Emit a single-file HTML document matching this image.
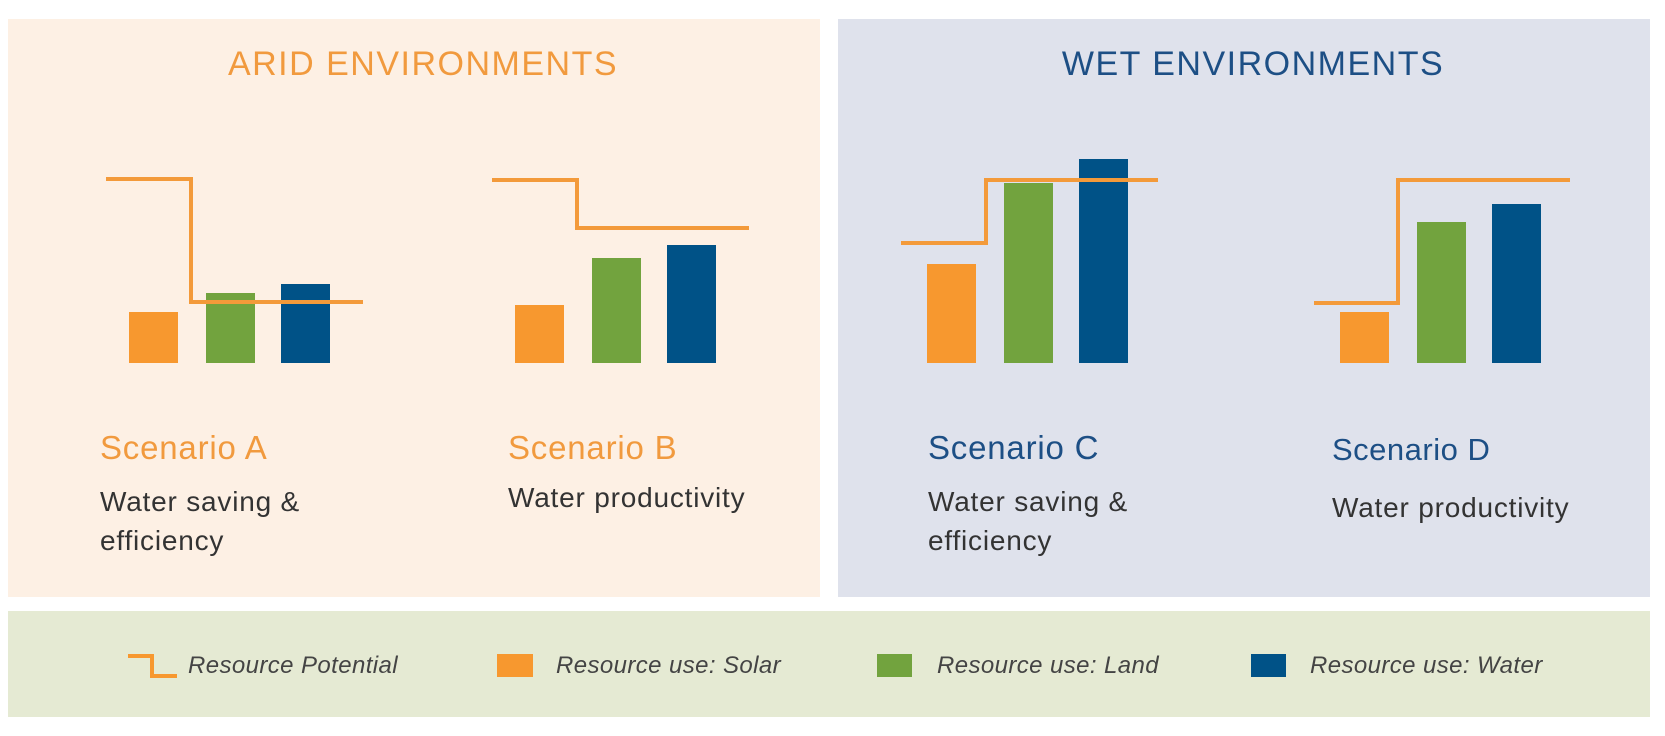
<!DOCTYPE html>
<html><head><meta charset="utf-8"><style>
body{margin:0;width:1665px;height:736px;background:#fff;position:relative;overflow:hidden;font-family:"Liberation Sans",sans-serif}
.abs{position:absolute}
.t{position:absolute;white-space:nowrap}
</style></head><body>
<div class="abs" style="left:8px;top:19px;width:812px;height:578px;background:#fdf0e4"></div>
<div class="abs" style="left:838px;top:19px;width:812px;height:578px;background:#dfe2ec"></div>
<div class="abs" style="left:8px;top:611px;width:1642px;height:106px;background:#e5ead3"></div>

<div class="t" style="left:173px;top:45px;width:500px;text-align:center;font-size:34px;letter-spacing:1.5px;color:#f19a3e">ARID ENVIRONMENTS</div>
<div class="t" style="left:1003px;top:45px;width:500px;text-align:center;font-size:34px;letter-spacing:1.5px;color:#1d4f85">WET ENVIRONMENTS</div>

<div class="t" style="left:100px;top:429px;font-size:33px;letter-spacing:0.8px;color:#f19a3e">Scenario A</div>
<div class="t" style="left:100px;top:482px;font-size:28px;line-height:39px;letter-spacing:0.8px;color:#333">Water saving &amp;<br>efficiency</div>
<div class="t" style="left:508px;top:429px;font-size:33px;letter-spacing:0.8px;color:#f19a3e">Scenario B</div>
<div class="t" style="left:508px;top:482px;font-size:28px;letter-spacing:0.8px;color:#333">Water productivity</div>
<div class="t" style="left:928px;top:429px;font-size:33px;letter-spacing:0.8px;color:#1d4f85">Scenario C</div>
<div class="t" style="left:928px;top:482px;font-size:28px;line-height:39px;letter-spacing:0.8px;color:#333">Water saving &amp;<br>efficiency</div>
<div class="t" style="left:1332px;top:432px;font-size:31px;letter-spacing:0.5px;color:#1d4f85">Scenario D</div>
<div class="t" style="left:1332px;top:492px;font-size:28px;letter-spacing:0.8px;color:#333">Water productivity</div>

<svg class="abs" style="left:0;top:0" width="1665" height="736" id="chart"></svg>

<svg class="abs" style="left:0;top:0" width="1665" height="736">
<polyline points="128,656 152,656 152,676 177,676" fill="none" stroke="#f7982f" stroke-width="4"/>
<rect x="497" y="654" width="36" height="23" fill="#f7982f"/>
<rect x="877" y="654" width="35" height="23" fill="#72a33e"/>
<rect x="1251" y="654" width="35" height="23" fill="#005287"/>
</svg>
<div class="t" style="left:188px;top:652px;font-size:24px;letter-spacing:0.4px;font-style:italic;color:#444">Resource Potential</div>
<div class="t" style="left:556px;top:652px;font-size:24px;letter-spacing:0.4px;font-style:italic;color:#444">Resource use: Solar</div>
<div class="t" style="left:937px;top:652px;font-size:24px;letter-spacing:0.4px;font-style:italic;color:#444">Resource use: Land</div>
<div class="t" style="left:1310px;top:652px;font-size:24px;letter-spacing:0.4px;font-style:italic;color:#444">Resource use: Water</div>

<script>
const scenarios = ["A","B","C","D"];
const solarUse = [51, 58, 99, 51];
const landUse = [70, 105, 180, 141];
const waterUse = [79, 118, 204, 159];
const potentialBefore = [184, 183, 120, 60];
const potentialAfter = [61, 135, 183, 183];

// layout (not data)
const baseY = 363;
const groupX = [129, 515, 927, 1340];
const barOffsets = [0, 77, 152];
const barW = 49;
const lineStart = [106, 492, 901, 1314];
const stepX = [191, 577, 986, 1398];
const lineEnd = [363, 749, 1158, 1570];
const colors = ["#f7982f", "#72a33e", "#005287"];
const names = ["solar", "land", "water"];
function y(v){ return baseY - v; }

const svg = document.getElementById('chart');
const NS = "http://www.w3.org/2000/svg";
scenarios.forEach((s, i) => {
  const g = document.createElementNS(NS, 'g');
  
  
  const vals = [solarUse[i], landUse[i], waterUse[i]];
  vals.forEach((v, k) => {
    const r = document.createElementNS(NS, 'rect');
    r.setAttribute('x', groupX[i] + barOffsets[k]);
    r.setAttribute('y', y(v));
    r.setAttribute('width', barW);
    r.setAttribute('height', v);
    r.setAttribute('fill', colors[k]);
    
    
    g.appendChild(r);
  });
  const p = document.createElementNS(NS, 'polyline');
  p.setAttribute('points', [lineStart[i], y(potentialBefore[i]), stepX[i], y(potentialBefore[i]), stepX[i], y(potentialAfter[i]), lineEnd[i], y(potentialAfter[i])].join(' '));
  p.setAttribute('fill', 'none');
  p.setAttribute('stroke', '#f39a3a');
  p.setAttribute('stroke-width', '4');
  
  
  g.appendChild(p);
  svg.appendChild(g);
});
</script>
</body></html>
